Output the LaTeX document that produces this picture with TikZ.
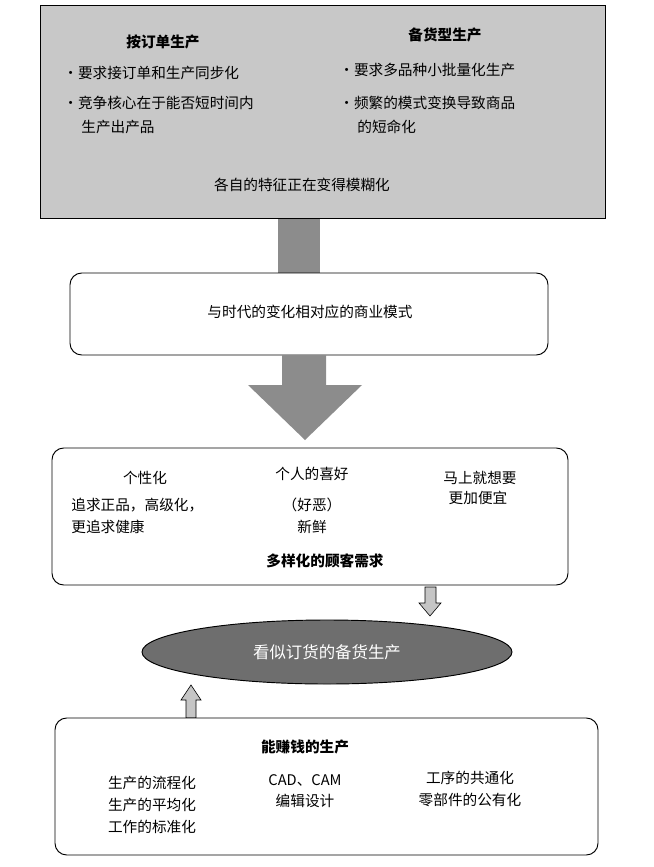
\documentclass[tikz,border=0pt]{standalone}
\usepackage{fontspec}
\setmainfont{Noto Sans CJK SC}
\definecolor{boxgray}{RGB}{200,200,200}
\definecolor{arrgray}{RGB}{140,140,140}
\definecolor{ovalgray}{RGB}{110,110,110}
\begin{document}
\begin{tikzpicture}[x=0.03cm, y=-0.03cm,
    txt/.style={font=\fontsize{12.5}{15}\selectfont, inner sep=1pt},
    head/.style={txt, font=\fontsize{12.5}{15}\selectfont\bfseries},
    panel/.style={draw, line width=0.8pt, rounded corners=10pt, fill=white},
    smallarrow/.style={fill=arrgray!50, draw=black, line width=0.5pt},
]
\useasboundingbox (0,0) rectangle (654,867);

% top block and its arrow
\fill[arrgray] (278,215) rectangle (320,280);
\draw[line width=0.8pt, fill=boxgray] (40,5) rectangle (605,218);
\node[head] (order) at (163,42) {按订单生产};
\node[head] (stock) at (445,35) {备货型生产};
\node[txt, anchor=west] (o1) at (62,73) {・要求接订单和生产同步化};
\node[txt, anchor=west] (o2) at (62,103) {・竞争核心在于能否短时间内};
\node[txt, anchor=west] (o3) at (80,127) {生产出产品};
\node[txt, anchor=west] (s1) at (338,70) {・要求多品种小批量化生产};
\node[txt, anchor=west] (s2) at (338,103) {・频繁的模式变换导致商品};
\node[txt, anchor=west] (s3) at (356,127) {的短命化};
\node[txt] (blur) at (302,185) {各自的特征正在变得模糊化};

% business model
\draw[panel] (70,273) rectangle (548,355);
\node[txt] (model) at (310,312) {与时代的变化相对应的商业模式};
\fill[arrgray] (282,355) -- (326,355) -- (326,385) -- (362,385) -- (305,440)
  -- (248,385) -- (282,385) -- cycle;

% customer needs
\draw[panel] (52,448) rectangle (568,585);
\node[txt] (ind) at (145,478) {个性化};
\node[txt, anchor=west] (ind1) at (70,505) {追求正品，高级化，};
\node[txt, anchor=west] (ind2) at (70,527) {更追求健康};
\node[txt] (pref) at (312,474) {个人的喜好};
\node[txt] (pref1) at (312,505) {（好恶）};
\node[txt] (pref2) at (312,527) {新鲜};
\node[txt] (now) at (480,478) {马上就想要};
\node[txt] (now1) at (478,498) {更加便宜};
\node[head] (needs) at (325,561) {多样化的顾客需求};

% oval and small arrows
\draw[smallarrow] (425,587) -- (436,587) -- (436,603)
  -- (441,603) -- (430,616) -- (419,603) -- (425,603) -- cycle;
\draw[line width=0.8pt, fill=ovalgray] (327,652) ellipse [x radius=185, y radius=32];
\node[txt, text=white, font=\fontsize{14}{16}\selectfont] (oval) at (327,652) {看似订货的备货生产};
\draw[smallarrow] (186,718) -- (196,718) -- (196,700)
  -- (201,700) -- (191,685) -- (181,700) -- (186,700) -- cycle;

% profitable production
\draw[panel] (55,718) rectangle (598,855);
\node[head] (profit) at (305,747) {能赚钱的生产};
\node[txt] (p1) at (152,783) {生产的流程化};
\node[txt] (p2) at (152,805) {生产的平均化};
\node[txt] (p3) at (152,827) {工作的标准化};
\node[txt] (c1) at (305,780) {CAD、CAM};
\node[txt] (c2) at (305,801) {编辑设计};
\node[txt] (w1) at (470,778) {工序的共通化};
\node[txt] (w2) at (470,800) {零部件的公有化};
\end{tikzpicture}
\end{document}
